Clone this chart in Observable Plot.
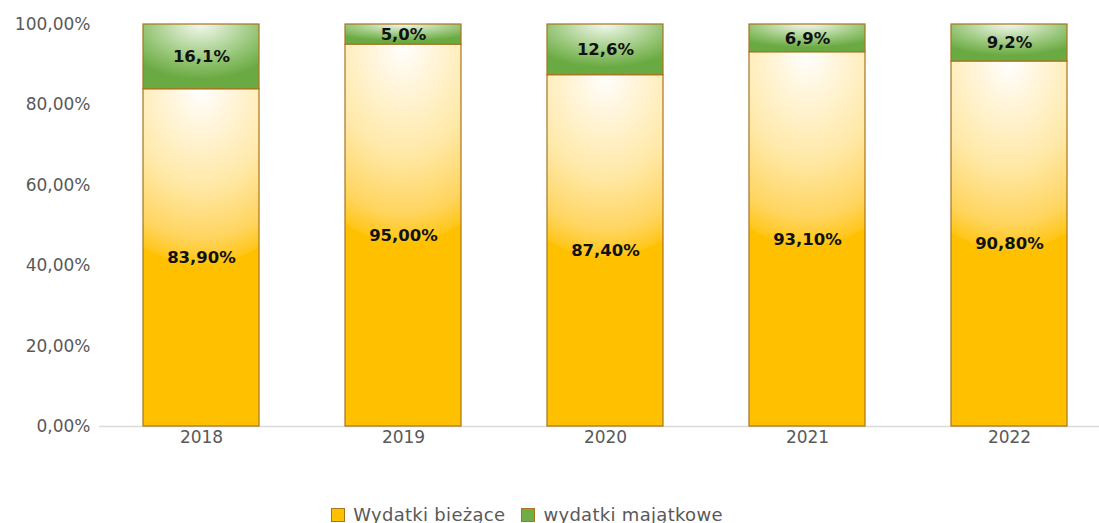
<!DOCTYPE html>
<html>
<head>
<meta charset="utf-8">
<script src="https://cdn.jsdelivr.net/npm/d3@7"></script>
<script src="https://cdn.jsdelivr.net/npm/@observablehq/plot@0.6"></script>
<style>
  body { margin: 0; background: #fff; font-family: "DejaVu Sans", Verdana, sans-serif; }
  #legend { display: flex; justify-content: center; gap: 16px; font-size: 18px; color: #595959; margin-left: -45px; margin-top: 34px; letter-spacing: 0.3px; }
  #legend span.item { display: flex; align-items: center; gap: 8px; }
  #legend span.sw { width: 14px; height: 14px; display: inline-block; box-sizing: border-box; }
</style>
</head>
<body>
<div id="chart"></div>
<div id="legend"></div>
<script>
const years = ["2018", "2019", "2020", "2021", "2022"];
const biezace = [83.9, 95.0, 87.4, 93.1, 90.8];
const majatkowe = [16.1, 5.0, 12.6, 6.9, 9.2];
const yTicks = [0, 20, 40, 60, 80, 100];
const seriesNames = ["Wydatki bieżące", "wydatki majątkowe"];

const fmt2 = v => v.toFixed(2).replace(".", ",") + "%";
const fmt1 = v => v.toFixed(1).replace(".", ",") + "%";

const rows = years.map((y, i) => ({year: y, b: biezace[i], m: majatkowe[i]}));

const stroke = "#A8741E";
const chart = Plot.plot({
  width: 1099,
  height: 470,
  marginTop: 24,
  marginBottom: 44,
  marginLeft: 99,
  marginRight: 0,
  style: {fontFamily: "DejaVu Sans, Verdana, sans-serif", fontSize: "17px", color: "#595959", background: "#fff"},
  x: {domain: years, range: [99, 1110], paddingInner: 0.426, paddingOuter: 0.213, label: null, tickSize: 0, tickPadding: 4},
  y: {domain: [0, 100], ticks: yTicks, tickFormat: fmt2, label: null, tickSize: 0, tickPadding: 9},
  marks: [
    Plot.ruleY([0], {stroke: "#d9d9d9", strokeWidth: 1.5}),
    Plot.barY(rows, {x: "year", y1: 0, y2: "b", fill: "url(#gOrange)", stroke, strokeWidth: 1.2}),
    Plot.barY(rows, {x: "year", y1: "b", y2: d => d.b + d.m, fill: "url(#gGreen)", stroke, strokeWidth: 1.2}),
    Plot.text(rows, {x: "year", y: d => d.b / 2, text: d => fmt2(d.b), fontWeight: "bold", fontSize: 16.5, fill: "#111"}),
    Plot.text(rows, {x: "year", y: d => d.b + d.m / 2, text: d => fmt1(d.m), fontWeight: "bold", fontSize: 16.5, fill: "#111"})
  ]
});

const ns = "http://www.w3.org/2000/svg";
const defs = document.createElementNS(ns, "defs");
function radial(id, ry, sx, stops) {
  const g = document.createElementNS(ns, "radialGradient");
  g.setAttribute("id", id);
  g.setAttribute("gradientUnits", "objectBoundingBox");
  g.setAttribute("cx", "0.5"); g.setAttribute("cy", "0");
  g.setAttribute("fx", "0.5"); g.setAttribute("fy", "0");
  g.setAttribute("r", ry);
  g.setAttribute("gradientTransform", "translate(0.5,0) scale(" + (sx / ry) + ",1) translate(-0.5,0)");
  for (const [o, c] of stops) {
    const s = document.createElementNS(ns, "stop");
    s.setAttribute("offset", o); s.setAttribute("stop-color", c);
    g.appendChild(s);
  }
  defs.appendChild(g);
}
radial("gOrange", 0.52, 1.2, [[0, "#FFFFFF"], [0.2, "#FFF6DE"], [0.55, "#FFE9A8"], [0.85, "#FFD560"], [0.99, "#FFC618"], [1, "#FFC000"]]);
radial("gGreen", 0.85, 0.75, [[0, "#F2F8EE"], [0.3, "#C9E2B8"], [0.7, "#90C26F"], [0.95, "#72AE4B"], [1, "#6AAA43"]]);
chart.insertBefore(defs, chart.firstChild);
document.getElementById("chart").appendChild(chart);

const colors = ["#FFC000", "#70AD47"];
const leg = document.getElementById("legend");
seriesNames.forEach((n, i) => {
  const it = document.createElement("span"); it.className = "item";
  const sw = document.createElement("span"); sw.className = "sw";
  sw.style.background = colors[i]; sw.style.border = "1px solid " + stroke;
  it.appendChild(sw);
  it.appendChild(document.createTextNode(n));
  leg.appendChild(it);
});
</script>
</body>
</html>
